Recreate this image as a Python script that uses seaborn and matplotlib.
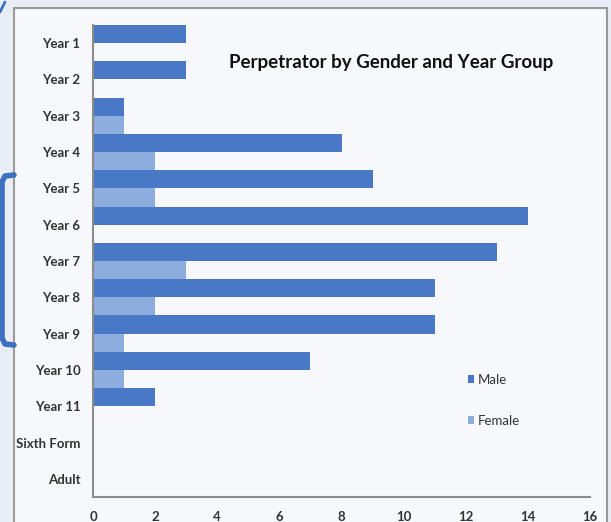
import matplotlib
matplotlib.use('Agg')
import matplotlib.pyplot as plt
import seaborn as sns
import pandas as pd

# data
year_groups = ['Year 1', 'Year 2', 'Year 3', 'Year 4', 'Year 5', 'Year 6', 'Year 7',
               'Year 8', 'Year 9', 'Year 10', 'Year 11', 'Sixth Form', 'Adult']
male = [3, 3, 1, 8, 9, 14, 13, 11, 11, 7, 2, 0, 0]
female = [0, 0, 1, 2, 2, 0, 3, 2, 1, 1, 0, 0, 0]
genders = ['Male', 'Female']
x_ticks = [0, 2, 4, 6, 8, 10, 12, 14, 16]

df = pd.DataFrame({
    'Year Group': year_groups * 2,
    'Count': male + female,
    'Gender': ['Male'] * len(year_groups) + ['Female'] * len(year_groups),
})

sns.set_style('white')
plt.rcParams['font.family'] = ['Lato', 'DejaVu Sans']

W, H = 611, 522
fig = plt.figure(figsize=(W / 100, H / 100), dpi=100)
fig.patch.set_facecolor('#e9edf6')

# chart frame behind the plot
frame = plt.Rectangle((14 / W, -0.05), (607 - 14) / W, (H - 8) / H + 0.05,
                      transform=fig.transFigure, facecolor='#f7f8fc',
                      edgecolor='#9a9a9a', linewidth=1.5, zorder=-5)
fig.patches.append(frame)

# blue bracket on the left edge
bx = [14, 5, 2, 2, 5, 14]
by = [175, 176, 182, 338, 344, 345]
fig.lines.append(plt.Line2D([v / W for v in bx], [1 - v / H for v in by],
                            transform=fig.transFigure, color='#3d70c0',
                            linewidth=4, solid_joinstyle='round', zorder=-4))
fig.lines.append(plt.Line2D([0 / W, 5 / W], [1 - 12 / H, 1 - 2 / H],
                            transform=fig.transFigure, color='#3d70c0', linewidth=2,
                            zorder=-4))

ax = fig.add_axes([93 / W, (H - 497) / H, (590 - 93) / W, (497 - 25) / H])
ax.set_facecolor('none')
ax.set_zorder(2)

sns.barplot(data=df, x='Count', y='Year Group', hue='Gender', order=year_groups,
            hue_order=genders, palette=['#4878c6', '#8cadde'], width=1.0,
            orient='h', saturation=1, linewidth=0, ax=ax)

ax.set_xlim(0, 16)
ax.set_xticks(x_ticks)
ax.set_xlabel('')
ax.set_ylabel('')
ax.tick_params(axis='both', length=0, labelsize=9.5, colors='#222222')
ax.tick_params(axis='x', pad=10)
ax.tick_params(axis='y', pad=9)
for lbl in ax.get_xticklabels() + ax.get_yticklabels():
    lbl.set_fontweight('bold')
    lbl.set_color('#333333')

for side in ['top', 'right']:
    ax.spines[side].set_visible(False)
for side in ['left', 'bottom']:
    ax.spines[side].set_color('#8c8c8c')
    ax.spines[side].set_linewidth(1.5)

ax.text(0.6, 0.92, 'Perpetrator by Gender and Year Group', transform=ax.transAxes,
        ha='center', va='center', fontsize=13.5, fontweight='bold', color='#111111')

leg = ax.legend(loc='center left', bbox_to_anchor=(0.73, 0.205), frameon=False,
                fontsize=9.5, handlelength=0.5, handleheight=0.5, handletextpad=0.25,
                labelspacing=2.2)
for t in leg.get_texts():
    t.set_color('#333333')

fig.savefig('out.png', dpi=100, facecolor=fig.get_facecolor())
